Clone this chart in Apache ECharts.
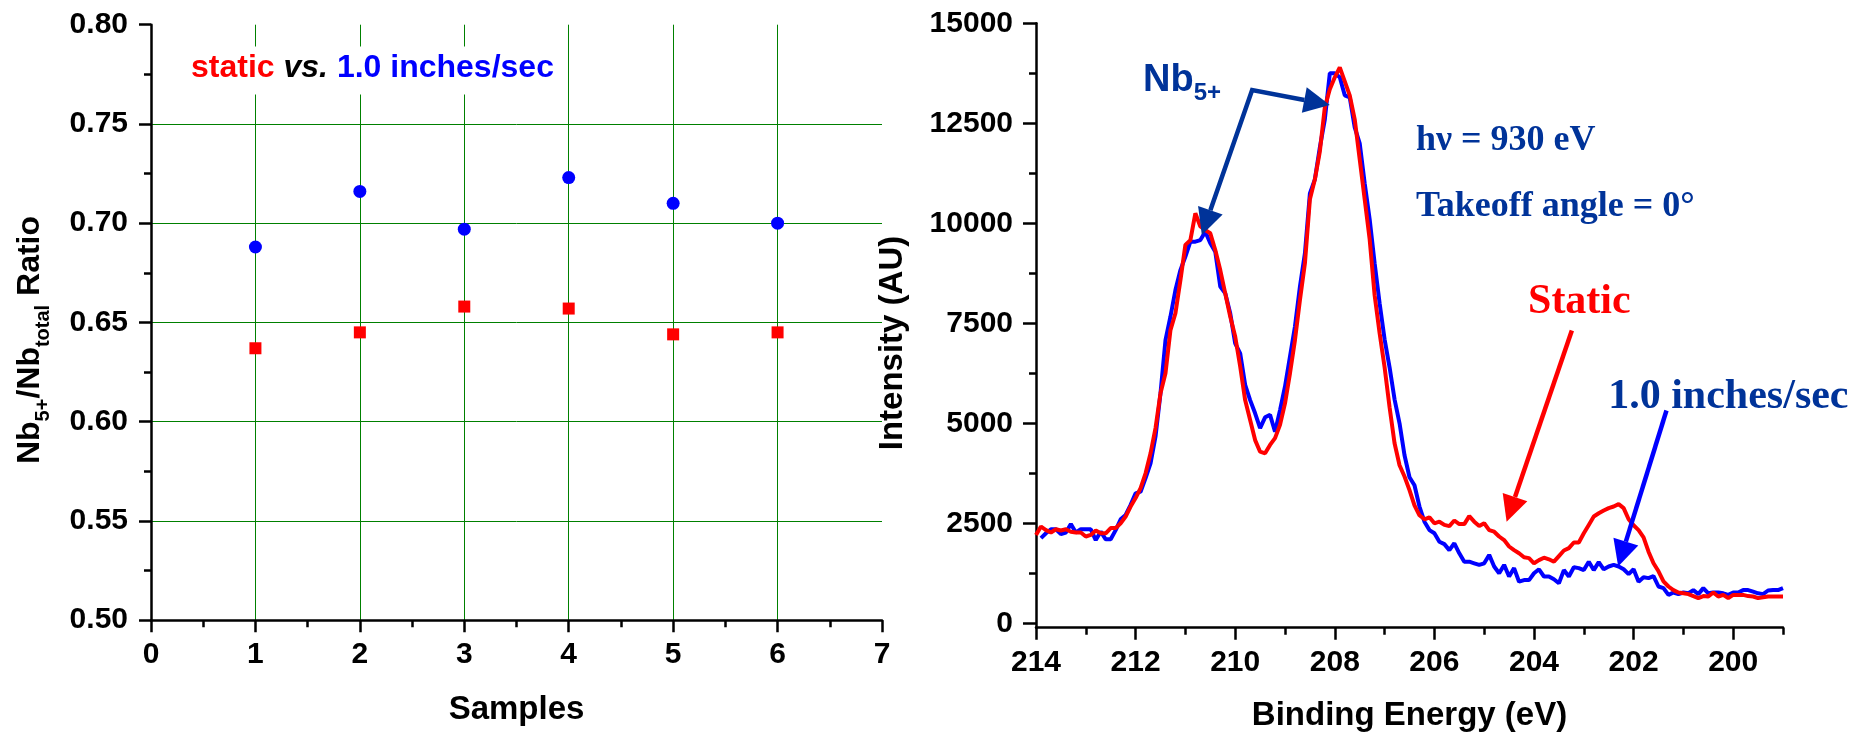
<!DOCTYPE html>
<html><head><meta charset="utf-8">
<script src="https://cdn.jsdelivr.net/npm/echarts@6/dist/echarts.min.js"></script>
<style>html,body{margin:0;padding:0;background:#fff}#c{width:1870px;height:736px}</style>
</head><body><div id="c"></div>
<script>
// ---------- Left panel data ----------
const samples = [1, 2, 3, 4, 5, 6];
const ratioStatic = [0.637, 0.645, 0.658, 0.657, 0.644, 0.645];
const ratioMoving = [0.688, 0.716, 0.697, 0.723, 0.710, 0.700];

// ---------- Right panel data ----------
const energy = [
 214.0,213.9,213.8,213.7,213.6,213.5,213.4,213.3,213.2,213.1,
 213.0,212.9,212.8,212.7,212.6,212.5,212.4,212.3,212.2,212.1,
 212.0,211.9,211.8,211.7,211.6,211.5,211.4,211.3,211.2,211.1,
 211.0,210.9,210.8,210.7,210.6,210.5,210.4,210.3,210.2,210.1,
 210.0,209.9,209.8,209.7,209.6,209.5,209.4,209.3,209.2,209.1,
 209.0,208.9,208.8,208.7,208.6,208.5,208.4,208.3,208.2,208.1,
 208.0,207.9,207.8,207.7,207.6,207.5,207.4,207.3,207.2,207.1,
 207.0,206.9,206.8,206.7,206.6,206.5,206.4,206.3,206.2,206.1,
 206.0,205.9,205.8,205.7,205.6,205.5,205.4,205.3,205.2,205.1,
 205.0,204.9,204.8,204.7,204.6,204.5,204.4,204.3,204.2,204.1,
 204.0,203.9,203.8,203.7,203.6,203.5,203.4,203.3,203.2,203.1,
 203.0,202.9,202.8,202.7,202.6,202.5,202.4,202.3,202.2,202.1,
 202.0,201.9,201.8,201.7,201.6,201.5,201.4,201.3,201.2,201.1,
 201.0,200.9,200.8,200.7,200.6,200.5,200.4,200.3,200.2,200.1,
 200.0,199.9,199.8,199.7,199.6,199.5,199.4,199.3,199.2,199.1,
 199.0];
const intensityStatic = [
 2210,2420,2330,2270,2350,2320,2350,2290,2270,2270,
 2170,2210,2320,2250,2250,2380,2380,2500,2670,2920,
 3130,3380,3750,4250,4880,5750,6250,7330,7750,8580,
 9460,9580,10250,9920,9830,9750,9330,8830,8250,7670,
 7170,6420,5580,5080,4580,4290,4250,4460,4630,4960,
 5500,6250,7080,8080,9000,10600,11100,11800,12900,13350,
 13650,13900,13550,13200,12600,11600,10600,9600,8200,7250,
 6400,5400,4500,3950,3670,3330,2950,2700,2600,2650,
 2500,2540,2460,2430,2570,2480,2480,2680,2540,2430,
 2500,2330,2290,2170,2080,1920,1830,1750,1650,1630,
 1500,1580,1640,1600,1540,1680,1820,1880,2020,2020,
 2250,2460,2670,2750,2820,2880,2920,2980,2880,2600,
 2450,2330,2150,1790,1500,1300,1050,920,830,770,
 750,730,680,630,680,670,770,670,710,630,
 710,710,710,680,670,630,650,670,670,670,
 670];
const intensityMoving = [
 null,2130,2250,2350,2350,2230,2270,2480,2270,2350,
 2350,2350,2080,2290,2100,2100,2330,2600,2710,2960,
 3250,3290,3630,4000,4670,5750,7080,7670,8330,8830,
 9170,9540,9540,9580,9790,9500,9290,8420,8250,7750,
 7000,6750,5960,5580,5250,4880,5150,5210,4790,5330,
 5920,6670,7420,8420,9250,10750,11100,11900,12600,13750,
 13750,13650,13200,13150,12400,12000,11000,10100,9000,8000,
 7100,6400,5600,5000,4200,3650,3450,2920,2540,2330,
 2250,2040,1980,1830,2000,1750,1540,1540,1500,1460,
 1500,1710,1420,1250,1460,1170,1380,1040,1080,1080,
 1250,1350,1170,1170,1100,1000,1330,1170,1400,1380,
 1330,1540,1330,1530,1350,1420,1460,1420,1350,1230,
 1350,1040,1150,1130,1180,920,880,710,770,730,
 770,750,830,730,880,750,770,770,750,710,
 770,770,830,830,790,750,730,820,830,830,
 880];

// tick values
const energyMajorTicks = [214, 212, 210, 208, 206, 204, 202, 200];
const energyMinorTicks = [213, 211, 209, 207, 205, 203, 201, 199];
const intensityMajorTicks = [0, 2500, 5000, 7500, 10000, 12500, 15000];
const intensityMinorTicks = [1250, 3750, 6250, 8750, 11250, 13750];

// annotation anchors (data coordinates of right panel)
const nbVertex = [209.66, 13330];
const nbTipRight = [208.10, 12960];
const nbTipLeft = [210.67, 9710];
const staticArrow = [[203.24, 7320], [204.55, 2540]];
const movingArrow = [[201.34, 5320], [202.31, 1420]];
const labelNb = [211.85, 13580];
const labelHv = [206.37, 12060];
const labelTakeoff = [206.37, 10420];
const labelStatic = [204.12, 8020];
const labelMoving = [202.51, 5650];
// legend anchor (data coordinates of left panel)
const legendAnchor = [0.326, 0.7769];

const SANS = '"Liberation Sans", Arial, Helvetica, sans-serif';
const SERIF = '"Liberation Serif", "Times New Roman", serif';
const BLACK = '#000000';
const AXW = 2.5;

function axisBase(extra) {
  return Object.assign({
    type: 'value',
    axisLine: {show: true, onZero: false, lineStyle: {color: BLACK, width: AXW}},
    axisTick: {show: true, length: 12, lineStyle: {color: BLACK, width: AXW}},
    axisLabel: {show: true, fontFamily: SANS, fontSize: 30, fontWeight: 'bold', color: BLACK},
    splitLine: {show: false}
  }, extra);
}

const chart = echarts.init(document.getElementById('c'), null, {renderer: 'canvas'});

const option = {
  animation: false,
  backgroundColor: '#ffffff',
  textStyle: {fontFamily: SANS},
  grid: [
    {left: 151, top: 24.7, width: 731, height: 595.5},
    {left: 1036, top: 23.3, width: 747, height: 604.4}
  ],
  xAxis: [
    axisBase({gridIndex: 0, position: 'bottom', min: 0, max: 7, interval: 1,
      minorTick: {show: true, splitNumber: 2, length: 7, lineStyle: {color: BLACK, width: AXW}},
      axisLabel: {fontFamily: SANS, fontSize: 30, fontWeight: 'bold', color: BLACK, margin: 20},
      splitLine: {show: true, showMinLine: false, showMaxLine: false, lineStyle: {color: '#008000', width: 1}}}),
    axisBase({gridIndex: 1, position: 'bottom', min: 199, max: 214, inverse: true,
      axisTick: {show: true, length: 12, customValues: energyMajorTicks, lineStyle: {color: BLACK, width: AXW}},
      axisLabel: {fontFamily: SANS, fontSize: 30, fontWeight: 'bold', color: BLACK, margin: 20,
                  customValues: energyMajorTicks, formatter: v => String(v)}}),
    axisBase({gridIndex: 1, position: 'bottom', min: 199, max: 214, inverse: true,
      axisLine: {show: false, onZero: false},
      axisTick: {show: true, length: 7, customValues: energyMinorTicks, lineStyle: {color: BLACK, width: AXW}},
      axisLabel: {show: false}})
  ],
  yAxis: [
    axisBase({gridIndex: 0, position: 'left', min: 0.5, max: 0.8, interval: 0.05,
      minorTick: {show: true, splitNumber: 2, length: 7, lineStyle: {color: BLACK, width: AXW}},
      axisLabel: {fontFamily: SANS, fontSize: 30, fontWeight: 'bold', color: BLACK, margin: 23,
                  formatter: v => v.toFixed(2)},
      splitLine: {show: true, showMinLine: false, showMaxLine: false, lineStyle: {color: '#008000', width: 1}}}),
    axisBase({gridIndex: 1, position: 'left', min: -110, max: 15000,
      axisTick: {show: true, length: 13, customValues: intensityMajorTicks, lineStyle: {color: BLACK, width: AXW}},
      axisLabel: {fontFamily: SANS, fontSize: 30, fontWeight: 'bold', color: BLACK, margin: 23,
                  customValues: intensityMajorTicks, formatter: v => String(v)}}),
    axisBase({gridIndex: 1, position: 'left', min: -110, max: 15000,
      axisLine: {show: false, onZero: false},
      axisTick: {show: true, length: 7, customValues: intensityMinorTicks, lineStyle: {color: BLACK, width: AXW}},
      axisLabel: {show: false}})
  ],
  series: [
    {type: 'scatter', xAxisIndex: 0, yAxisIndex: 0, symbol: 'circle', symbolSize: 13,
     itemStyle: {color: '#0000ff', opacity: 1}, data: samples.map((s, i) => [s, ratioMoving[i]])},
    {type: 'scatter', xAxisIndex: 0, yAxisIndex: 0, symbol: 'rect', symbolSize: 12,
     itemStyle: {color: '#ff0000', opacity: 1}, data: samples.map((s, i) => [s, ratioStatic[i]])},
    {type: 'line', xAxisIndex: 1, yAxisIndex: 1, showSymbol: false, symbol: 'none',
     lineStyle: {color: '#0000ff', width: 4}, itemStyle: {color: '#0000ff'},
     data: energy.map((e, i) => [e, intensityMoving[i]]).filter(d => d[1] !== null)},
    {type: 'line', xAxisIndex: 1, yAxisIndex: 1, showSymbol: false, symbol: 'none',
     lineStyle: {color: '#ff0000', width: 4}, itemStyle: {color: '#ff0000'},
     data: energy.map((e, i) => [e, intensityStatic[i]])}
  ]
};
chart.setOption(option);

const P = p => chart.convertToPixel({xAxisIndex: 1, yAxisIndex: 1}, p);
const PL = p => chart.convertToPixel({xAxisIndex: 0, yAxisIndex: 0}, p);

function head(from, tip, color, len, wid) {
  const dx = tip[0] - from[0], dy = tip[1] - from[1];
  const L = Math.hypot(dx, dy), ux = dx / L, uy = dy / L;
  const bx = tip[0] - ux * len, by = tip[1] - uy * len, nx = -uy, ny = ux;
  return {
    base: [bx, by],
    el: {type: 'polygon', z: 100,
         shape: {points: [tip, [bx + nx * wid / 2, by + ny * wid / 2], [bx - nx * wid / 2, by - ny * wid / 2]]},
         style: {fill: color}}
  };
}
function arrow(a, b, color) {
  const p0 = P(a), p1 = P(b);
  const h = head(p0, p1, color, 26, 26);
  return [
    {type: 'polyline', z: 100, shape: {points: [p0, h.base]}, style: {stroke: color, lineWidth: 4.5, fill: null}},
    h.el
  ];
}
function txt(pos, text, font, color, extra) {
  return Object.assign({type: 'text', z: 100, x: pos[0], y: pos[1],
    style: {text: text, font: font, fill: color, x: 0, y: 0,
            align: 'left', verticalAlign: 'middle', textAlign: 'left', textVerticalAlign: 'middle'}}, extra || {});
}

const DB = '#003399';
const v = P(nbVertex), tr = P(nbTipRight), tl = P(nbTipLeft);
const hR = head(v, tr, DB, 26, 26), hL = head(v, tl, DB, 26, 26);

const graphics = [
  // Nb5+ arrows
  {type: 'polyline', z: 100, shape: {points: [hL.base, v, hR.base]},
   style: {stroke: DB, lineWidth: 4.5, fill: null, lineJoin: 'miter'}},
  hR.el, hL.el,
  ...arrow(staticArrow[0], staticArrow[1], '#ff0000'),
  ...arrow(movingArrow[0], movingArrow[1], '#0000ff'),
  // Nb5+ label
  {type: 'text', z: 100, x: P(labelNb)[0], y: P(labelNb)[1],
   style: {text: '{m|Nb}{s|5+}', x: 0, y: 0, align: 'left', verticalAlign: 'middle',
     textAlign: 'left', textVerticalAlign: 'middle',
     rich: {m: {font: 'bold 38px ' + SANS, fill: DB, lineHeight: 44},
            s: {font: 'bold 24px ' + SANS, fill: DB, lineHeight: 24, padding: [26, 0, 0, 0]}}}},
  txt(P(labelHv), 'h\u03bd = 930 eV', 'bold 36px ' + SERIF, DB),
  txt(P(labelTakeoff), 'Takeoff angle = 0\u00b0', 'bold 36px ' + SERIF, DB),
  txt(P(labelStatic), 'Static', 'bold 42px ' + SERIF, '#ff0000'),
  txt(P(labelMoving), '1.0 inches/sec', 'bold 42px ' + SERIF, DB),
  // left legend text with white box
  {type: 'text', z: 100, x: PL(legendAnchor)[0], y: PL(legendAnchor)[1],
   style: {text: '{r|static} {k|vs.} {b|1.0 inches/sec}', x: 0, y: 0,
     font: 'bold 32px ' + SANS, fill: BLACK,
     align: 'left', verticalAlign: 'middle', textAlign: 'left', textVerticalAlign: 'middle',
     backgroundColor: '#ffffff', padding: [4, 6, 8, 6], lineHeight: 36,
     rich: {r: {font: 'bold 32px ' + SANS, fill: '#ff0000', lineHeight: 36},
            k: {font: 'italic bold 32px ' + SANS, fill: BLACK, lineHeight: 36},
            b: {font: 'bold 32px ' + SANS, fill: '#0000ff', lineHeight: 36}}}},
  // axis titles
  {type: 'text', z: 100, x: 516.5, y: 709.5,
   style: {text: 'Samples', font: 'bold 33px ' + SANS, fill: BLACK, x: 0, y: 0,
     align: 'center', verticalAlign: 'middle', textAlign: 'center', textVerticalAlign: 'middle'}},
  {type: 'text', z: 100, x: 1409.5, y: 716,
   style: {text: 'Binding Energy (eV)', font: 'bold 33px ' + SANS, fill: BLACK, x: 0, y: 0,
     align: 'center', verticalAlign: 'middle', textAlign: 'center', textVerticalAlign: 'middle'}},
  {type: 'text', z: 100, x: 893, y: 343, rotation: Math.PI / 2,
   style: {text: 'Intensity (AU)', font: 'bold 33px ' + SANS, fill: BLACK, x: 0, y: 0,
     align: 'center', verticalAlign: 'middle', textAlign: 'center', textVerticalAlign: 'middle'}},
  {type: 'text', z: 100, x: 30.6, y: 340, rotation: Math.PI / 2,
   style: {text: '{m|Nb}{s|5+}{m|/Nb}{s|total}{m| Ratio}', x: 0, y: 0,
     align: 'center', verticalAlign: 'middle', textAlign: 'center', textVerticalAlign: 'middle',
     rich: {m: {font: 'bold 32px ' + SANS, fill: BLACK, lineHeight: 40},
            s: {font: 'bold 20px ' + SANS, fill: BLACK, lineHeight: 20, padding: [26, 0, 0, 0]}}}}
];
chart.setOption({graphic: graphics});
</script>
</body></html>
